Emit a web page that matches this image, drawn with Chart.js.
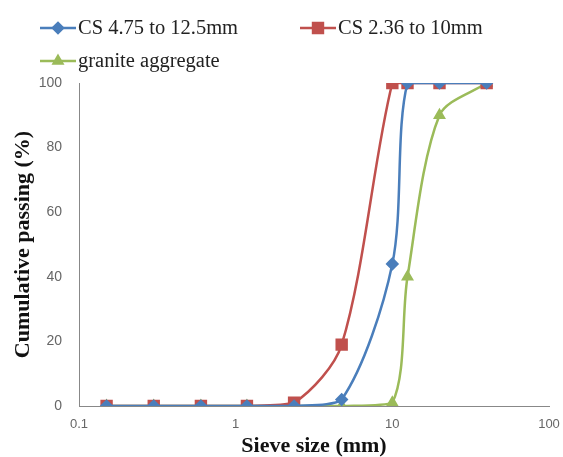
<!DOCTYPE html>
<html>
<head>
<meta charset="utf-8">
<script src="https://cdn.jsdelivr.net/npm/chart.js@4/dist/chart.umd.min.js"></script>
<style>
  body { margin: 0; background: #fff; }
  #wrap { width: 563px; height: 457px; }
</style>
</head>
<body>
<div id="wrap"><canvas id="grading" width="563" height="457"></canvas></div>
<script>
// sieve sizes (mm) and cumulative passing (%)
var blueSizes = [0.15, 0.3, 0.6, 1.18, 2.36, 4.75, 10, 12.5, 20, 40];
var bluePassing = [0, 0, 0, 0, 0, 2, 44, 100, 100, 100];

var redSizes = [0.15, 0.3, 0.6, 1.18, 2.36, 4.75, 10, 12.5, 20, 40];
var redPassing = [0, 0, 0, 0, 1, 19, 100, 100, 100, 100];

var greenSizes = [0.15, 0.3, 0.6, 1.18, 2.36, 4.75, 10, 12.5, 20, 40];
var greenPassing = [0, 0, 0, 0, 0, 0, 1, 40, 90, 100];

var seriesNames = ["CS 4.75 to 12.5mm", "CS 2.36 to 10mm", "granite aggregate"];
var xTicks = [0.1, 1, 10, 100];
var yTicks = [0, 20, 40, 60, 80, 100];

function toPoints(xs, ys) {
   var pts = [];
   for (let i = 0; i < xs.length; i++) {
      pts.push({ x: xs[i], y: ys[i] });
   }
   return pts;
}

var serif = "'Liberation Serif', 'Times New Roman', serif";
var sans = "'Liberation Sans', Arial, sans-serif";

// legend drawn by hand so it looks like the Excel one (line + marker)
var legendPlugin = {
   id: "excelLegend",
   afterDraw: function (chart) {
      var ctx = chart.ctx;
      var spots = [
         { x: 40, y: 28 },
         { x: 300, y: 28 },
         { x: 40, y: 61 },
      ];
      chart.data.datasets.forEach(function (ds, i) {
         var s = spots[i];
         ctx.save();
         ctx.strokeStyle = ds.borderColor;
         ctx.fillStyle = ds.backgroundColor;
         ctx.lineWidth = 2.5;
         ctx.beginPath();
         ctx.moveTo(s.x, s.y);
         ctx.lineTo(s.x + 36, s.y);
         ctx.stroke();
         Chart.helpers.drawPoint(ctx, {
            pointStyle: ds.pointStyle,
            radius: ds.pointRadius,
            borderWidth: 1,
            rotation: 0,
         }, s.x + 18, s.y);
         ctx.fillStyle = "#222";
         ctx.font = "20.5px " + serif;
         ctx.textBaseline = "middle";
         ctx.fillText(seriesNames[i], s.x + 38, s.y + 1);
         ctx.restore();
      });
   },
};

var ctx = document.getElementById("grading").getContext("2d");

var chart = new Chart(ctx, {
   type: "line",
   data: {
      datasets: [
         {
            label: seriesNames[0],
            data: toPoints(blueSizes, bluePassing),
            borderColor: "#4A7EBB",
            backgroundColor: "#4A7EBB",
            pointStyle: "rectRot",
            pointRadius: 5,
            borderWidth: 2.5,
            tension: 0.3,
         },
         {
            label: seriesNames[1],
            data: toPoints(redSizes, redPassing),
            borderColor: "#C0504D",
            backgroundColor: "#C0504D",
            pointStyle: "rect",
            pointRadius: 7,
            borderWidth: 2.5,
            tension: 0.3,
         },
         {
            label: seriesNames[2],
            data: toPoints(greenSizes, greenPassing),
            borderColor: "#9BBB59",
            backgroundColor: "#9BBB59",
            pointStyle: "triangle",
            pointRadius: 5,
            borderWidth: 2.5,
            tension: 0.3,
         },
      ],
   },
   options: {
      responsive: false,
      animation: false,
      layout: { padding: { left: 12, right: 14, top: 83, bottom: 0 } },
      plugins: {
         legend: { display: false },
         tooltip: { enabled: false },
      },
      scales: {
         x: {
            type: "logarithmic",
            min: 0.1,
            max: 100,
            afterBuildTicks: function (axis) {
               axis.ticks = xTicks.map(function (v) { return { value: v }; });
            },
            afterFit: function (scale) {
               scale.height = 51;
               scale.paddingRight = 0;
            },
            ticks: {
               color: "#666",
               font: { family: sans, size: 13 },
               padding: 6,
               maxRotation: 0,
               callback: function (v) { return String(v); },
            },
            grid: { display: false, drawTicks: true, tickLength: 5, color: "#888" },
            border: { color: "#888", width: 1 },
            title: {
               display: true,
               text: "Sieve size (mm)",
               color: "#111",
               font: { family: serif, size: 22, weight: "bold", lineHeight: 1 },
               padding: { top: 0, bottom: 0 },
            },
         },
         y: {
            min: 0,
            max: 100,
            afterBuildTicks: function (axis) {
               axis.ticks = yTicks.map(function (v) { return { value: v }; });
            },
            afterFit: function (scale) {
               scale.width = 67;
            },
            ticks: {
               color: "#666",
               font: { family: sans, size: 14 },
               padding: 12,
            },
            grid: { display: false, drawTicks: true, tickLength: 5, color: "#888" },
            border: { color: "#888", width: 1 },
            title: {
               display: true,
               text: "Cumulative passing (%)",
               color: "#111",
               font: { family: serif, size: 22, weight: "bold", lineHeight: 1 },
               padding: { top: 0, bottom: 0 },
            },
         },
      },
   },
   plugins: [legendPlugin],
});
</script>
</body>
</html>
